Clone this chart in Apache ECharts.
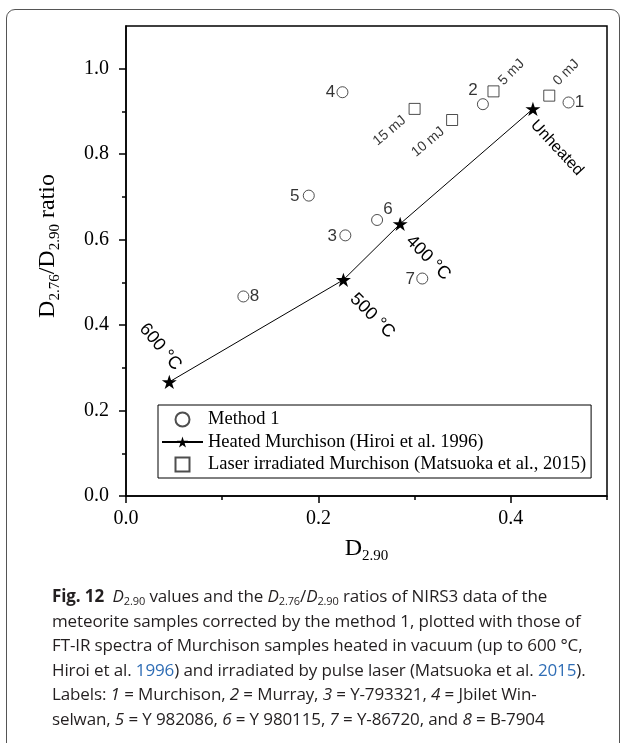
<!DOCTYPE html>
<html><head><meta charset="utf-8">
<script src="https://cdn.jsdelivr.net/npm/echarts@6/dist/echarts.min.js"></script>
<style>
html,body{margin:0;padding:0;background:#fff;}
#card{position:absolute;left:6px;top:9px;width:614px;height:800px;border:1.5px solid #555;border-radius:9px;box-sizing:border-box;}
#chart{position:absolute;left:0;top:0;width:626px;height:743px;}
#caption{position:absolute;left:52px;top:584px;font-family:'Open Sans',sans-serif;font-size:17px;line-height:24.5px;color:#231f20;white-space:nowrap;letter-spacing:-0.12px;}
#caption sub{font-size:11px;vertical-align:-3px;line-height:0;font-style:normal;}
#caption .blue{color:#2f6db5;}
</style></head>
<body>
<div id="card"></div>
<div id="chart"></div>
<div id="caption">
<div><b>Fig. 12</b>&nbsp; <i>D</i><sub>2.90</sub> values and the <i>D</i><sub>2.76</sub>/<i>D</i><sub>2.90</sub> ratios of NIRS3 data of the</div>
<div>meteorite samples corrected by the method 1, plotted with those of</div>
<div>FT-IR spectra of Murchison samples heated in vacuum (up to 600 °C,</div>
<div>Hiroi et al. <span class="blue">1996</span>) and irradiated by pulse laser (Matsuoka et al. <span class="blue">2015</span>).</div>
<div>Labels: <i>1</i> = Murchison, <i>2</i> = Murray, <i>3</i> = Y-793321, <i>4</i> = Jbilet Win-</div>
<div>selwan, <i>5</i> = Y 982086, <i>6</i> = Y 980115, <i>7</i> = Y-86720, and <i>8</i> = B-7904</div>
</div>
<script>
// ---- data ----
const method1Labels = ['1', '2', '3', '4', '5', '6', '7', '8'];
const method1X = [0.460, 0.371, 0.228, 0.225, 0.190, 0.261, 0.308, 0.122];
const method1Y = [0.921, 0.917, 0.610, 0.945, 0.703, 0.646, 0.509, 0.467];

const heatedLabels = ['Unheated', '400 °C', '500 °C', '600 °C'];
const heatedX = [0.423, 0.285, 0.226, 0.045];
const heatedY = [0.906, 0.637, 0.506, 0.267];

const laserLabels = ['0 mJ', '5 mJ', '10 mJ', '15 mJ'];
const laserX = [0.440, 0.382, 0.339, 0.300];
const laserY = [0.937, 0.947, 0.880, 0.906];

const xMajorTicks = [0, 0.2, 0.4];
const xMinorTicks = [0.1, 0.3, 0.5];
const yMajorTicks = [0, 0.2, 0.4, 0.6, 0.8, 1.0];
const yMinorTicks = [0.1, 0.3, 0.5, 0.7, 0.9];

const seriesNames = ['Method 1', 'Heated Murchison (Hiroi et al. 1996)', 'Laser irradiated Murchison (Matsuoka et al., 2015)'];

// ---- label placement (screen offset of text centre from marker, rotation) ----
const method1Place = {'1': [11, 0], '2': [-10, -14], '3': [-13, 1], '4': [-12, 0], '5': [-14, 1], '6': [11, -11], '7': [-12, 1], '8': [11, 0]};
const heatedPlace = {'Unheated': [24, 39, -47], '400 °C': [28, 34, -45], '500 °C': [29, 36, -45], '600 °C': [-9, -35, -50]};
const laserPlace = {'0 mJ': [17, -23, 45], '5 mJ': [18, -19, 45], '10 mJ': [-24, 22, 40], '15 mJ': [-25, 22, 40]};

function rotOffset(dx, dy, deg) {
  const t = deg * Math.PI / 180, c = Math.cos(t), s = Math.sin(t);
  return [c * dx - s * dy, s * dx + c * dy];
}

const STAR = 'path://M50,0 L61.23,34.55 L97.55,34.55 L68.17,55.9 L79.39,90.45 L50,69.1 L20.61,90.45 L31.83,55.9 L2.45,34.55 L38.77,34.55 Z';
const SQUARE = 'path://M0,0 L10,0 L10,10 L0,10 Z';
const SANS = 'Liberation Sans, Arial, sans-serif';
const SERIF = 'Liberation Serif, Times New Roman, serif';

const method1Data = method1Labels.map((n, i) => ({
  name: n, value: [method1X[i], method1Y[i]],
  label: {offset: method1Place[n]}
}));
const heatedData = heatedLabels.map((n, i) => {
  const p = heatedPlace[n];
  return {name: n, value: [heatedX[i], heatedY[i]],
    label: {rotate: p[2], offset: rotOffset(p[0], p[1], p[2]), fontSize: n === 'Unheated' ? 16 : 18}};
});
const laserData = laserLabels.map((n, i) => {
  const p = laserPlace[n];
  return {name: n, value: [laserX[i], laserY[i]],
    label: {rotate: p[2], offset: rotOffset(p[0], p[1], p[2])}};
});

const axisBlack = {color: '#000', width: 1.5};
const nameRich = {
  d: {fontFamily: SERIF, fontSize: 24, color: '#000', lineHeight: 30},
  s: {fontFamily: SERIF, fontSize: 15, color: '#000', lineHeight: 13, verticalAlign: 'bottom'}
};

const chart = echarts.init(document.getElementById('chart'), null, {renderer: 'canvas'});
chart.setOption({
  animation: false,
  backgroundColor: 'transparent',
  grid: {left: 126, top: 26, width: 481, height: 470, show: true, borderColor: '#000', borderWidth: 1.5, backgroundColor: 'transparent'},
  xAxis: [{
    type: 'value', min: 0, max: 0.5, position: 'bottom',
    axisLine: {lineStyle: axisBlack},
    axisTick: {customValues: xMajorTicks, length: 7, lineStyle: axisBlack},
    axisLabel: {customValues: xMajorTicks, formatter: v => v.toFixed(1), margin: 13, fontFamily: SERIF, fontSize: 20, color: '#000'},
    splitLine: {show: false},
    name: '{d|D}{s|2.90}', nameLocation: 'middle', nameGap: 38, nameTextStyle: {rich: nameRich}
  }, {
    type: 'value', min: 0, max: 0.5, position: 'bottom',
    axisLine: {show: false},
    axisTick: {customValues: xMinorTicks, length: 4, lineStyle: axisBlack},
    axisLabel: {show: false}, splitLine: {show: false}
  }],
  yAxis: [{
    type: 'value', min: 0, max: 1.1, position: 'left',
    axisLine: {lineStyle: axisBlack},
    axisTick: {customValues: yMajorTicks, length: 7, lineStyle: axisBlack},
    axisLabel: {customValues: yMajorTicks, formatter: v => v.toFixed(1), margin: 17, fontFamily: SERIF, fontSize: 20, color: '#000'},
    splitLine: {show: false},
    name: '{d|D}{s|2.76}{d|/D}{s|2.90}{d| ratio}', nameLocation: 'middle', nameRotate: 90, nameGap: 63,
    nameTextStyle: {rich: nameRich, padding: [0, 0, 0, 30]}
  }, {
    type: 'value', min: 0, max: 1.1, position: 'left',
    axisLine: {show: false},
    axisTick: {customValues: yMinorTicks, length: 4, lineStyle: axisBlack},
    axisLabel: {show: false}, splitLine: {show: false}
  }],
  legend: {
    orient: 'vertical', left: 158, top: 405,
    itemWidth: 41, itemHeight: 14, itemGap: 3.5,
    padding: [5, 5, 4, 3],
    symbolKeepAspect: true,
    borderColor: '#000', borderWidth: 1, backgroundColor: '#fff',
    textStyle: {fontFamily: SERIF, fontSize: 18.5, color: '#000'},
    data: [
      {name: seriesNames[0]},
      {name: seriesNames[1]},
      {name: seriesNames[2], icon: SQUARE}
    ]
  },
  series: [{
    name: seriesNames[0], type: 'scatter', symbol: 'circle', symbolSize: 11,
    itemStyle: {color: '#fff', borderColor: '#222', borderWidth: 1},
    label: {show: true, position: 'inside', formatter: '{b}', align: 'center', verticalAlign: 'middle', fontFamily: SANS, fontSize: 17, color: '#000'},
    data: method1Data, z: 3
  }, {
    name: seriesNames[1], type: 'line', symbol: STAR, symbolSize: 15, symbolKeepAspect: true,
    itemStyle: {color: '#000'}, lineStyle: {color: '#000', width: 1},
    label: {show: true, position: 'inside', formatter: '{b}', align: 'center', verticalAlign: 'middle', fontFamily: SANS, fontSize: 18, color: '#000'},
    data: heatedData, z: 4
  }, {
    name: seriesNames[2], type: 'scatter', symbol: 'rect', symbolSize: 11, symbolKeepAspect: true,
    itemStyle: {color: '#fff', borderColor: '#222', borderWidth: 1},
    label: {show: true, position: 'inside', formatter: '{b}', align: 'center', verticalAlign: 'middle', fontFamily: SANS, fontSize: 14, color: '#000'},
    data: laserData, z: 3
  }]
});
</script>
</body></html>
